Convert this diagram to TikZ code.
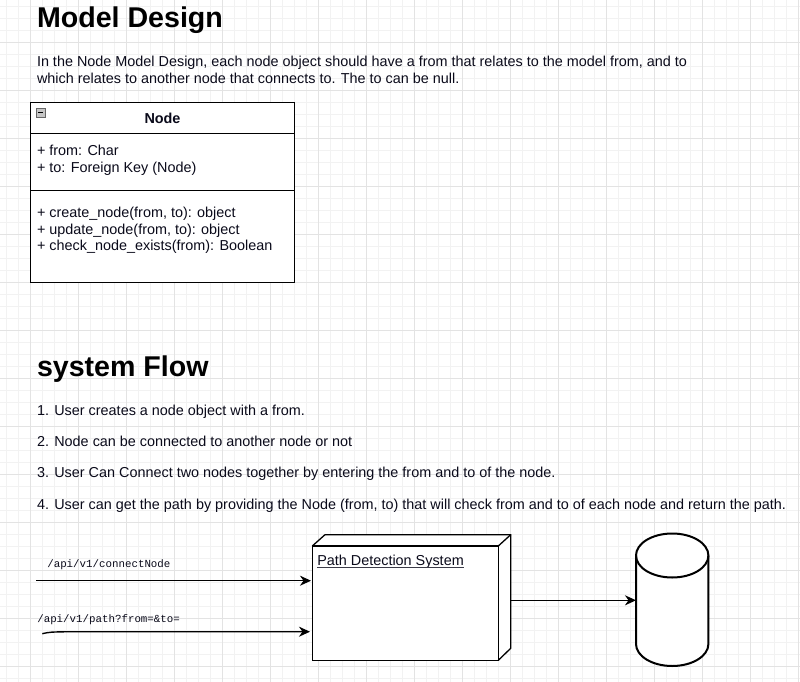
\documentclass[tikz,border=0pt]{standalone}
\usepackage{fontspec}
\setmainfont{Liberation Sans}
\setmonofont{Liberation Mono}
\usetikzlibrary{arrows.meta,calc}
\definecolor{minorgrid}{HTML}{F2F2F2}
\definecolor{majorgrid}{HTML}{E3E3E3}
\definecolor{txt}{HTML}{0A0A1A}
\tikzset{
  every node/.style={inner sep=0pt, outer sep=0pt, text=txt},
  body/.style={font=\fontsize{14.4}{17}\selectfont, anchor=base west},
  heading/.style={font=\fontsize{28.6}{32}\selectfont\bfseries, anchor=base west, text=black},
  apilabel/.style={font=\ttfamily\fontsize{10.8}{13}\selectfont, anchor=base west},
  outline/.style={draw=black, line width=1.3pt},
  flowarrow/.style={draw=black, line width=1.4pt, -{Stealth[length=11pt, width=10pt, inset=3.5pt]}},
}
\begin{document}
\begin{tikzpicture}[x=1pt, y=-1pt]
\useasboundingbox (0,0) rectangle (800,682);
\fill[white] (0,0) rectangle (800,682);
% grid
\foreach \g in {6,18,...,800} \draw[minorgrid, line width=0.8pt] (\g,0) -- (\g,682);
\foreach \g in {6,18,...,682} \draw[minorgrid, line width=0.8pt] (0,\g) -- (800,\g);
\foreach \g in {30,78,...,800} \draw[majorgrid, line width=0.8pt] (\g,0) -- (\g,682);
\foreach \g in {42,90,...,682} \draw[majorgrid, line width=0.8pt] (0,\g) -- (800,\g);

% Model design
\node[heading] (t1) at (37,28) {Model Design};
\node[body] (p1) at (37,67) {In the Node Model Design, each node object should have a from that relates to the model from, and to};
\node[body] (p2) at (37,84) {which relates to another node that connects to. The to can be null.};

% UML class
\fill[white] (30.7,102.7) rectangle (294.3,282.3);
\draw[outline] (30.7,102.7) rectangle (294.3,282.3);
\draw[outline] (30.7,133.5) -- (294.3,133.5);
\draw[outline] (30.7,190.7) -- (294.3,190.7);
\node[anchor=base, font=\fontsize{14.4}{17}\selectfont\bfseries] (cls) at (162.5,124) {Node};
\draw[fill=gray!45, draw=gray!80!black, line width=0.6pt] (36,108) rectangle (45,117);
\draw[black, line width=1pt] (38,112.5) -- (43,112.5);
\node[body] (a1) at (37,155) {+ from: Char};
\node[body] (a2) at (37,172) {+ to: Foreign Key (Node)};
\node[body] (m1) at (37,217.3) {+ create\_node(from, to): object};
\node[body] (m2) at (37,234) {+ update\_node(from, to): object};
\node[body] (m3) at (37,250.7) {+ check\_node\_exists(from): Boolean};

% System flow
\node[heading] (t2) at (37,376) {system Flow};
\node[body] (l1) at (37,415) {1. User creates a node object with a from.};
\node[body] (l2) at (37,446) {2. Node can be connected to another node or not};
\node[body] (l3) at (37,477.5) {3. User Can Connect two nodes together by entering the from and to of the node.};
\node[body] (l4) at (37,509) {4. User can get the path by providing the Node (from, to) that will check from and to of each node and return the path.};

% 3D box
\fill[white] (312.3,546) -- (325,534.7) -- (510.7,534.7) -- (510.7,648.3) -- (498.3,660.3) -- (312.3,660.3) -- cycle;
\draw[outline] (312.3,546) rectangle (498.3,660.3);
\draw[outline] (312.3,546) -- (325,534.7) -- (510.7,534.7) -- (510.7,648.3) -- (498.3,660.3);
\draw[outline] (498.3,546) -- (510.7,534.7);
\coordinate (boxin1) at (311,580.7);
\coordinate (boxin2) at (310,631.7);
\coordinate (boxout) at (510.7,600.3);
\node[body] (pds) at (317.3,565) {Path Detection System};
\draw[txt!80, line width=1.1pt] ($(pds.base west)+(0,2.3)$) -- ($(pds.base east)+(0,2.3)$);

% cylinder
\draw[outline, line width=2pt, fill=white] (636,555.5) -- (636,644) arc[start angle=180, end angle=0, x radius=36.2, y radius=22] -- (708.4,555.5) arc[start angle=0, end angle=-180, x radius=36.2, y radius=22] -- cycle;
\draw[outline, line width=2pt] (636,555.5) arc[start angle=180, end angle=0, x radius=36.2, y radius=22];
\coordinate (dbin) at (636,600.3);

% connectors
\coordinate (src1) at (36,580.7);
\coordinate (src2) at (42.3,633.7);
\node[apilabel] (lab1) at (47.3,567.7) {/api/v1/connectNode};
\node[apilabel] (lab2) at (37.3,622.7) {/api/v1/path?from=\&to=};
\draw[flowarrow] (src1) -- (boxin1);
\draw[flowarrow] (src2) .. controls (50,632) .. (70,631.7) -- (boxin2);
\draw[flowarrow] (boxout) -- (dbin);
\end{tikzpicture}
\end{document}
